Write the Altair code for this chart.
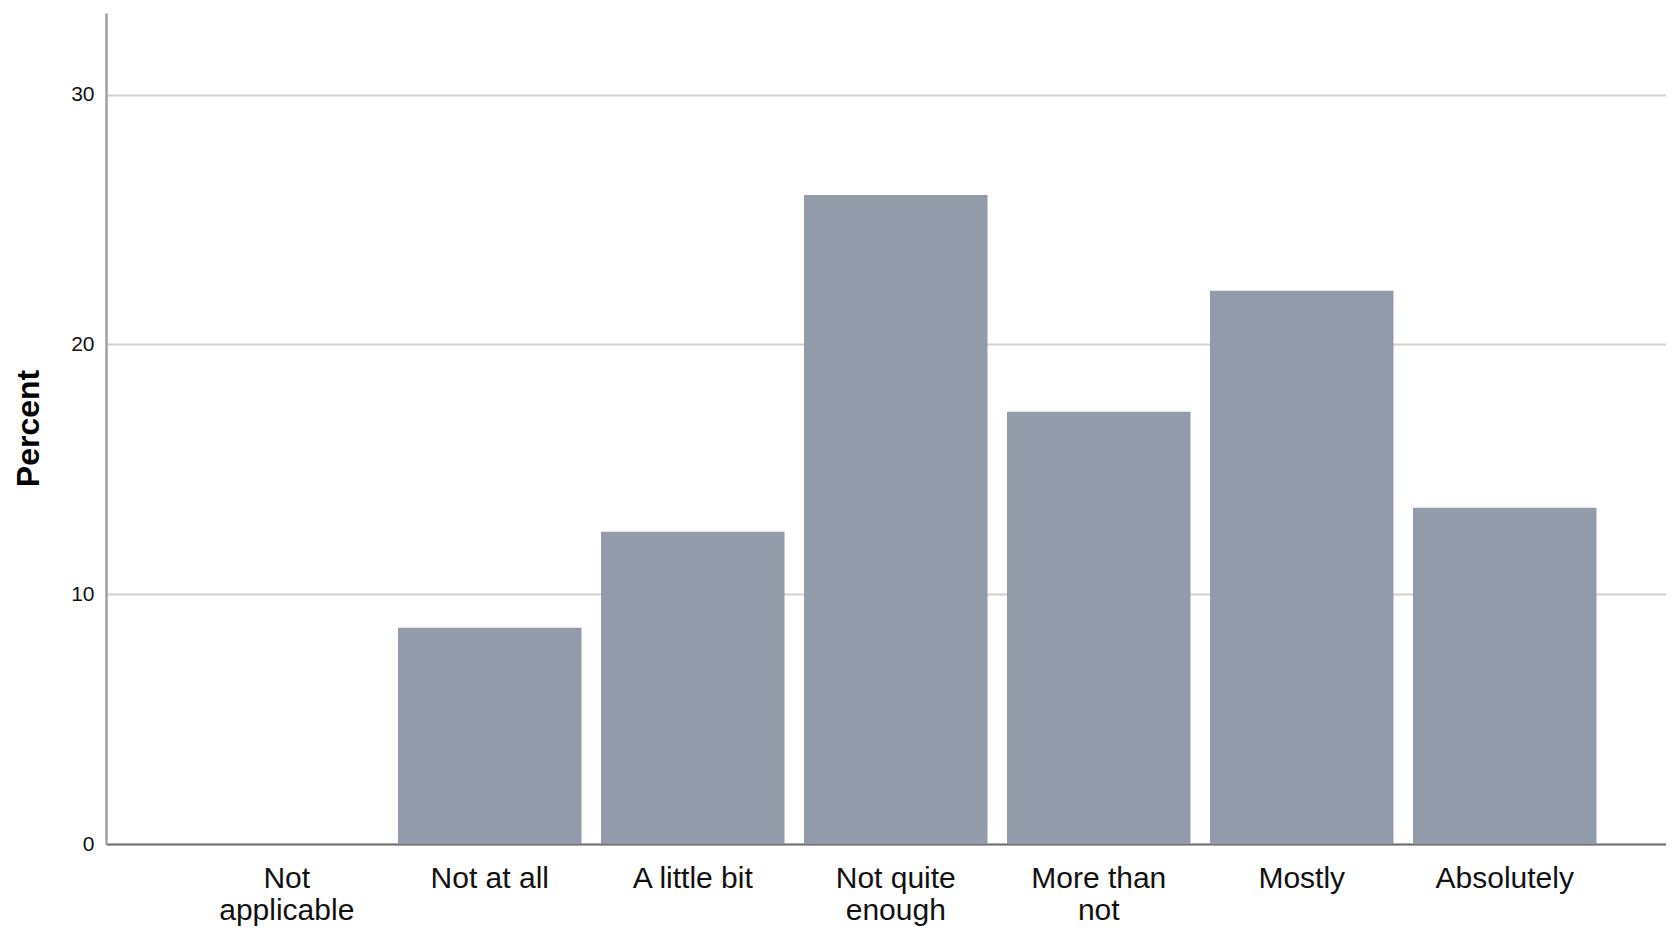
import altair as alt
import pandas as pd

# Data
categories = ["Not|applicable", "Not at all", "A little bit", "Not quite|enough",
              "More than|not", "Mostly", "Absolutely"]
percent = [0.0, 8.66, 12.50, 25.98, 17.31, 22.15, 13.46]
y_ticks = [0, 10, 20, 30]

df = pd.DataFrame({"category": categories, "percent": percent})

FONT = "Liberation Sans, Arial, sans-serif"

bars = alt.Chart(df).mark_bar(color="#919BA9").encode(
    x=alt.X(
        "category:N",
        sort=categories,
        scale=alt.Scale(paddingInner=0.0961, paddingOuter=0.3905, align=0.5615),
        axis=alt.Axis(
            title=None,
            labelExpr="split(datum.label, '|')",
            labelAngle=0,
            labelFont=FONT,
            labelFontSize=30,
            labelColor="#111111",
            labelLineHeight=32,
            labelBaseline="top",
            labelPadding=19,
            ticks=False,
            domainColor="#707070",
            domainWidth=2,
            grid=False,
        ),
    ),
    y=alt.Y(
        "percent:Q",
        scale=alt.Scale(domain=[0, 33.27], nice=False, zero=True),
        axis=alt.Axis(
            title="Percent",
            titleFont=FONT,
            titleFontSize=32,
            titleFontWeight="bold",
            titleColor="#000000",
            titleAngle=270,
            titleAlign="center",
            titleBaseline="alphabetic",
            titleX=-68,
            titleY=415,
            values=y_ticks,
            labelFont=FONT,
            labelFontSize=21,
            labelColor="#111111",
            labelPadding=12,
            ticks=False,
            domainColor="#A0A0A0",
            domainWidth=2.5,
            grid=True,
            gridColor="#D0D0D0",
            gridWidth=2,
        ),
    ),
)

chart = bars.properties(
    width=1560,
    height=831,
    background="white",
    autosize=alt.AutoSizeParams(type="none"),
    padding={"left": 98, "top": 5, "right": 0, "bottom": 84},
).configure_view(stroke=None)

chart.save("out.html", embed_options={"renderer": "svg", "actions": False})
